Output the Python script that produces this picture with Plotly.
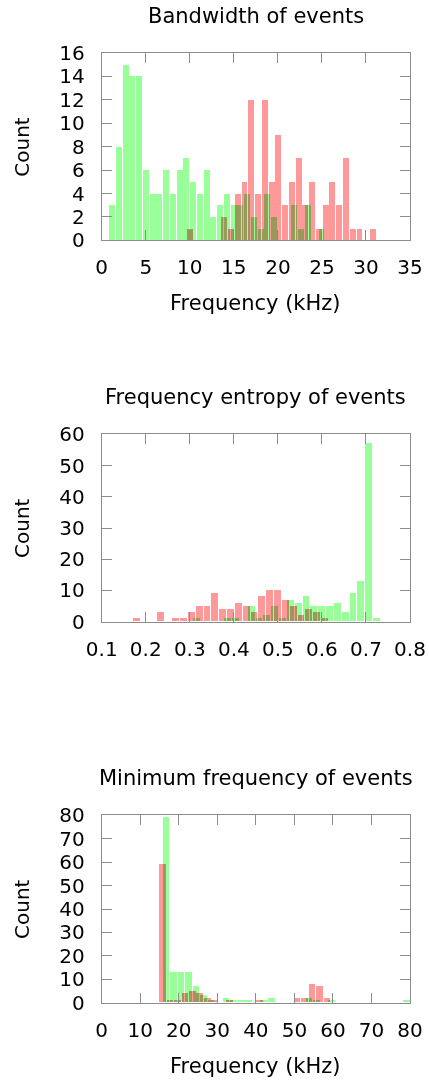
import plotly.graph_objects as go

# ---------------- data ----------------
# Panel 1: Bandwidth of events (kHz)
bw_red_start, bw_red_bin = 9.65, 0.768
bw_red_counts = [1, 0, 0, 0, 0, 2, 1, 4, 5, 12, 4, 12, 5, 9, 3, 5, 7, 3, 5, 1, 3, 5, 3, 7, 1, 1, 0, 1]
bw_green_start, bw_green_bin = 0.757, 0.767
bw_green_counts = [3, 8, 15, 14, 14, 6, 4, 4, 6, 4, 6, 7, 5, 4, 6, 2, 3, 4, 3, 3, 4, 2, 1, 4, 2, 0, 0, 3, 1, 3, 0, 1]

# Panel 2: Frequency entropy of events
en_red_start, en_red_bin = 0.1696, 0.01778
en_red_counts = [1, 0, 0, 3, 0, 1, 1, 3, 5, 5, 9, 4, 4, 6, 5, 3, 8, 10, 10, 7, 5, 2, 4, 3, 1]
en_green_start, en_green_bin = 0.3054, 0.01778
en_green_counts = [1, 0, 0, 0, 1, 1, 0, 5, 1, 2, 5, 1, 7, 6, 8, 5, 5, 5, 6, 3, 9, 13, 57, 1]

# Panel 3: Minimum frequency of events (kHz)
mf_red_start, mf_red_bin = 14.70, 1.94
mf_red_counts = [59, 1, 1, 4, 5, 4, 2, 1, 0, 1, 0, 0, 0, 1, 0, 0, 0, 0, 2, 2, 8, 7, 2]
mf_green_start, mf_green_bin = 15.65, 1.95
mf_green_counts = [79, 13, 13, 13, 7, 3, 1, 0, 2, 1, 1, 1, 0, 1, 2, 0, 0, 0, 0, 2, 1, 0, 1,
                   0, 0, 0, 0, 0, 0, 0, 0, 0, 1]

titles = ["Bandwidth of events", "Frequency entropy of events", "Minimum frequency of events"]
x_titles = ["Frequency (kHz)", "", "Frequency (kHz)"]
y_title = "Count"
x_ranges = [[0, 35], [0.1, 0.8], [0, 80]]
x_dticks = [5, 0.1, 10]
y_ranges = [[0, 16], [0, 60], [0, 80]]
y_dticks = [2, 10, 10]

# ---------------- figure ----------------
W, H = 429, 1080
FONT = "DejaVu Sans"
RED = "rgb(255,153,153)"
GREEN = "rgb(153,255,153)"
GRAY = "rgb(140,140,140)"

# plot areas in pixels (left, right, top, bottom)
plot_x = (101.7, 410.0)
plot_tops = [53.0, 434.3, 815.3]
plot_h = 187.4


def px_x(p):
    return p / W


def px_y(p):
    return 1 - p / H


fig = go.Figure()

series = [
    (bw_red_start, bw_red_bin, bw_red_counts, bw_green_start, bw_green_bin, bw_green_counts),
    (en_red_start, en_red_bin, en_red_counts, en_green_start, en_green_bin, en_green_counts),
    (mf_red_start, mf_red_bin, mf_red_counts, mf_green_start, mf_green_bin, mf_green_counts),
]

GAPF = 0.88
annotations = []
for i, (rs, rb, rc, gs, gb, gc) in enumerate(series):
    ax = "" if i == 0 else str(i + 1)
    xa, ya = "x" + ax, "y" + ax
    rx = [rs + rb * (k + 0.5) for k in range(len(rc))]
    gx = [gs + gb * (k + 0.5) for k in range(len(gc))]
    fig.add_trace(go.Bar(x=rx, y=rc, width=rb * GAPF, marker=dict(color=RED, line=dict(width=0)),
                         xaxis=xa, yaxis=ya, showlegend=False, hoverinfo="skip"))
    fig.add_trace(go.Bar(x=gx, y=gc, width=gb * GAPF, marker=dict(color=GREEN, line=dict(width=0)),
                         xaxis=xa, yaxis=ya, showlegend=False, hoverinfo="skip"))

    top = plot_tops[i]
    bottom = top + plot_h
    common = dict(showline=True, linecolor=GRAY, linewidth=1, mirror="allticks",
                  ticks="inside", ticklen=10, tickcolor=GRAY, tickwidth=1,
                  showgrid=False, zeroline=False, automargin=False,
                  tickfont=dict(family=FONT, size=20, color="black"))
    fig.update_layout(**{
        "xaxis" + ax: dict(domain=[px_x(plot_x[0]), px_x(plot_x[1])], range=x_ranges[i],
                           dtick=x_dticks[i], tick0=0, anchor=ya, ticklabelstandoff=9, **common),
        "yaxis" + ax: dict(domain=[px_y(bottom), px_y(top)], range=y_ranges[i],
                           dtick=y_dticks[i], tick0=0, anchor=xa, ticklabelstandoff=12, **common),
    })
    cx = (plot_x[0] + plot_x[1]) / 2
    annotations.append(dict(text=titles[i], x=px_x(cx), y=px_y(top - 37), xref="paper", yref="paper",
                            xanchor="center", yanchor="middle", showarrow=False,
                            font=dict(family=FONT, size=21, color="black")))
    if x_titles[i]:
        annotations.append(dict(text=x_titles[i], x=px_x(cx), y=px_y(bottom + 63), xref="paper",
                                yref="paper", xanchor="center", yanchor="middle", showarrow=False,
                                font=dict(family=FONT, size=21, color="black")))
    annotations.append(dict(text=y_title, x=px_x(22), y=px_y(top + plot_h / 2), xref="paper",
                            yref="paper", xanchor="center", yanchor="middle", textangle=-90,
                            showarrow=False, font=dict(family=FONT, size=20, color="black")))

fig.update_layout(width=W, height=H, margin=dict(l=0, r=0, t=0, b=0),
                  paper_bgcolor="white", plot_bgcolor="white", barmode="overlay",
                  annotations=annotations, bargap=0)

post = """
var gd = document.getElementById('{plot_id}');
gd.querySelectorAll('.barlayer .trace').forEach(function(t){ t.style.mixBlendMode = 'multiply'; });
"""
fig.write_html("out.html", post_script=post)
